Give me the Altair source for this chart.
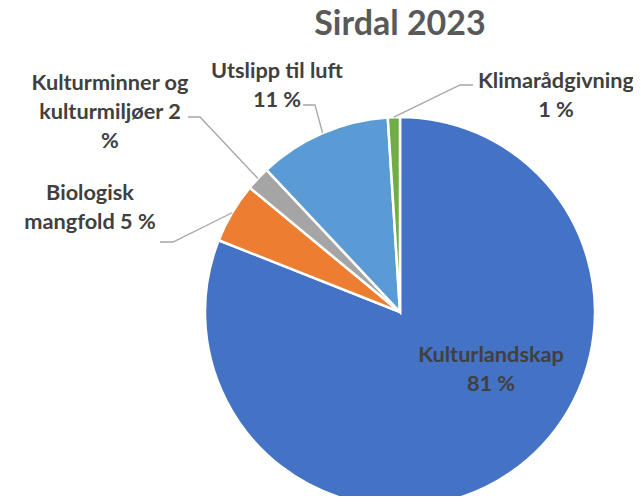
import math
import altair as alt
import pandas as pd

# ---- data ----
categories = ["Kulturlandskap", "Biologisk mangfold", "Kulturminner og kulturmiljøer", "Utslipp til luft", "Klimarådgivning"]
values = [81, 5, 2, 11, 1]
label_texts = ["Kulturlandskap\n81 %", "Biologisk\nmangfold 5 %", "Kulturminner og\nkulturmiljøer 2\n%", "Utslipp til luft\n11 %", "Klimarådgivning\n1 %"]
colors = ["#4472C4", "#ED7D31", "#A5A5A5", "#5B9BD5", "#70AD47"]
title_text = "Sirdal 2023"

# ---- layout (page pixels) ----
OX, OY = 8, 8
CX, CY, R = 400, 312, 195
label_first_line = {  # page coords of the centre of each label's first line
    "Kulturlandskap": (491, 355),
    "Biologisk mangfold": (90, 193),
    "Kulturminner og kulturmiljøer": (110, 83),
    "Utslipp til luft": (277, 71),
    "Klimarådgivning": (556, 81),
}
leader_ends = {  # (end, elbow) in page coords
    "Biologisk mangfold": [(160, 242), (173, 242)],
    "Kulturminner og kulturmiljøer": [(188, 117), (200, 117)],
    "Utslipp til luft": [(303, 105), (315, 105)],
    "Klimarådgivning": [(473, 85), (460, 85)],
}

df = pd.DataFrame({"category": categories, "value": values, "order": range(len(values))})

lab = pd.DataFrame({
    "category": categories,
    "text": label_texts,
    "px": [label_first_line[c][0] - OX for c in categories],
    "py": [label_first_line[c][1] - OY for c in categories],
})

# leader lines: start at the slice edge (mid-angle computed from the data)
total = sum(values)
rows = []
cum = 0
for c, v in zip(categories, values):
    mid = (cum + v / 2) / total * 2 * math.pi
    cum += v
    if c not in leader_ends:
        continue
    sx = CX + R * math.sin(mid)
    sy = CY - R * math.cos(mid)
    pts = [(sx, sy)] + leader_ends[c][::-1]
    for i, (x, y) in enumerate(pts):
        rows.append({"category": c, "i": i, "px": x - OX, "py": y - OY})
lead = pd.DataFrame(rows)

pie = alt.Chart(df).mark_arc(radius=R, stroke="white", strokeWidth=2.5).encode(
    theta=alt.Theta("value:Q", stack=True),
    color=alt.Color("category:N", scale=alt.Scale(domain=categories, range=colors), legend=None),
    order=alt.Order("order:Q"),
    x=alt.value(CX - OX),
    y=alt.value(CY - OY),
)

lines = alt.Chart(lead).mark_line(color="#A6A6A6", strokeWidth=1.3).encode(
    x=alt.X("px:Q", scale=None, axis=None),
    y=alt.Y("py:Q", scale=None, axis=None),
    detail="category:N",
    order="i:Q",
)

texts = alt.Chart(lab).mark_text(
    font="Lato", fontWeight="bold", fontSize=21.7, color="#404040",
    align="center", baseline="middle", lineBreak="\n", lineHeight=29,
).encode(
    x=alt.X("px:Q", scale=None, axis=None),
    y=alt.Y("py:Q", scale=None, axis=None),
    text="text:N",
)

title = alt.Chart(pd.DataFrame({"t": [title_text]})).mark_text(
    font="Lato", fontWeight="bold", fontSize=34, color="#595959",
    align="center", baseline="alphabetic",
).encode(
    x=alt.value(400 - OX),
    y=alt.value(35 - OY),
    text="t:N",
)

chart = alt.layer(pie, lines, texts, title).properties(
    width=625, height=488,
    autosize="none",
    padding=0,
).configure_view(stroke=None)

chart.save("out.html", embed_options={"renderer": "svg", "actions": False})
